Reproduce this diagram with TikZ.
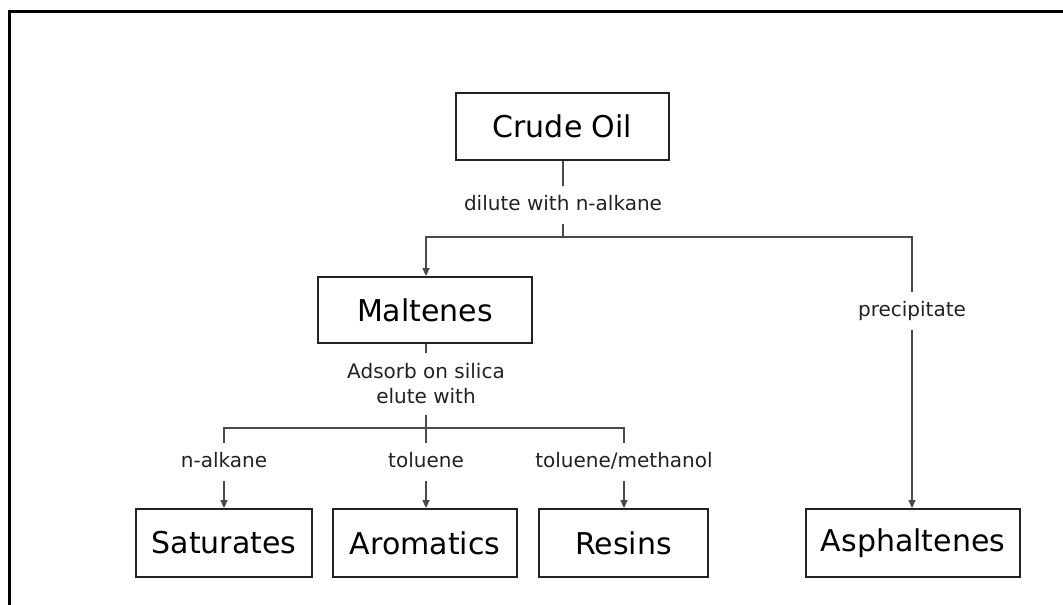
\documentclass[tikz,border=0pt]{standalone}
\usepackage{fontspec}
\setmainfont{DejaVu Sans}
\usetikzlibrary{arrows.meta}
\definecolor{Ink}{HTML}{222222}
\definecolor{Wire}{HTML}{4A4A4A}

\begin{document}
\begin{tikzpicture}[x=1pt, y=-1pt, >={Triangle[length=8pt,width=7pt]},
    box/.style={draw=Ink, line width=1.8pt, inner sep=0pt, text=black, font=\fontsize{30}{36}\selectfont},
    note/.style={inner xsep=2pt, inner ysep=9.5pt, text height=15pt, text depth=4pt, text=Ink, font=\fontsize{20}{25}\selectfont},
    wire/.style={draw=Wire, line width=1.3pt}]
    \useasboundingbox (0,0) rectangle (1063,605);
    % frame (top and left edge only)
    \draw[line width=3pt] (9,605) -- (9,11) -- (1063,11);

    % boxes
    \node[box, minimum width=213pt, minimum height=67pt] (crude) at (562.5,126.5) {Crude Oil};
    \node[box, minimum width=214pt, minimum height=66pt] (malt) at (425,310) {Maltenes};
    \node[box, minimum width=176pt, minimum height=68pt] (sat) at (224,543) {Saturates};
    \node[box, minimum width=184pt, minimum height=68pt] (aro) at (425,543) {Aromatics};
    \node[box, minimum width=169pt, minimum height=68pt] (res) at (623.5,543) {Resins};
    \node[box, minimum width=214pt, minimum height=68pt] (asph) at (913,543) {Asphaltenes};

    % labels on the lines
    \node[note] (dil) at (563,205) {dilute with n-alkane};
    \node[note] (prec) at (912,311) {precipitate};
    \node[note, text height=, text depth=, align=center, inner ysep=11pt] (ads) at (426,384) {Adsorb on silica\\elute with};
    \node[note] (nalk) at (224,462) {n-alkane};
    \node[note] (tol) at (426,462) {toluene};
    \node[note] (tolm) at (624,462) {toluene/methanol};

    \coordinate (split) at (563,237);
    \coordinate (fork) at (426,428);

    % crude oil -> maltenes / asphaltenes
    \draw[wire] (crude.south -| dil) -- (dil.north);
    \draw[wire] (dil.south) -- (split);
    \draw[wire, ->] (split) -| (malt.north -| ads);
    \draw[wire] (split) -| (prec.north);
    \draw[wire, ->] (prec.south) -- (prec.south |- asph.north);

    % maltenes -> fractions
    \draw[wire] (malt.south -| ads) -- (ads.north);
    \draw[wire] (ads.south) -- (fork);
    \draw[wire] (fork) -| (nalk.north);
    \draw[wire] (fork) -- (tol.north);
    \draw[wire] (fork) -| (tolm.north);
    \draw[wire, ->] (nalk.south) -- (nalk.south |- sat.north);
    \draw[wire, ->] (tol.south) -- (tol.south |- aro.north);
    \draw[wire, ->] (tolm.south) -- (tolm.south |- res.north);
\end{tikzpicture}
\end{document}
